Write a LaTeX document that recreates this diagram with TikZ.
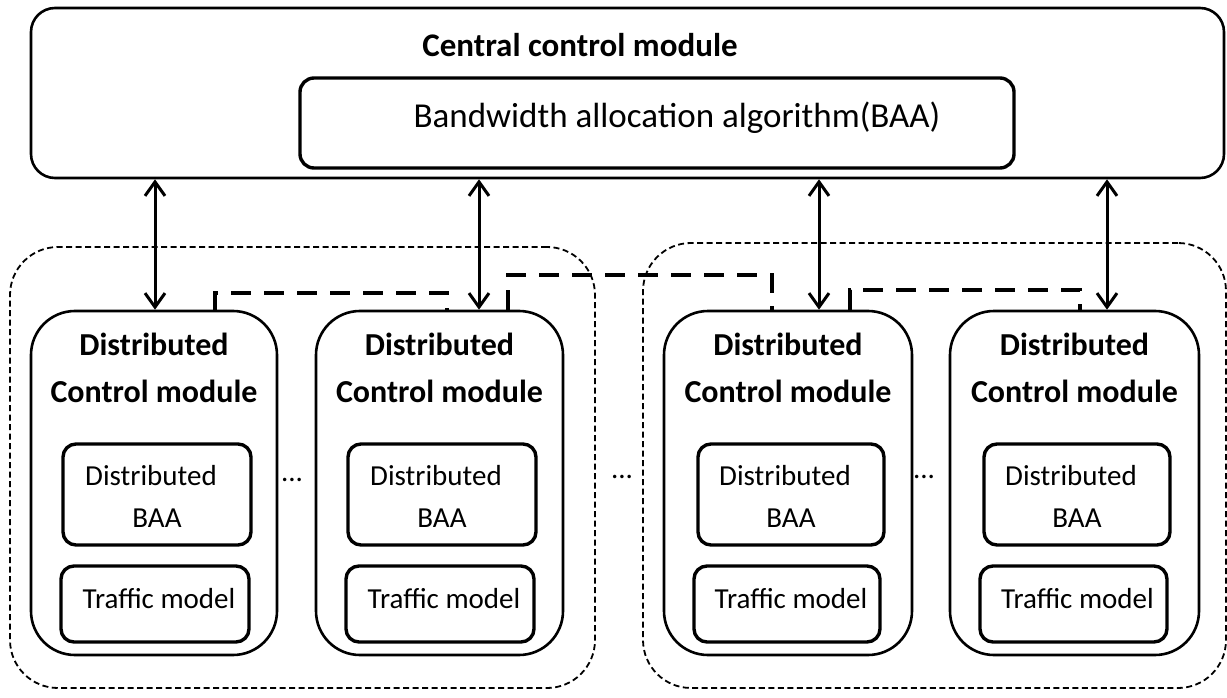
\documentclass[tikz,border=0pt]{standalone}
\usepackage{fontspec}
\setmainfont{Carlito}
\usetikzlibrary{arrows.meta}
\begin{document}
\begin{tikzpicture}[x=1pt,y=-1pt,
  frame/.style={draw, line width=2.6pt, rounded corners=24pt, inner sep=0pt},
  algbox/.style={draw, line width=3.4pt, rounded corners=14pt, inner sep=0pt},
  group/.style={draw, line width=1.8pt, dash pattern=on 6pt off 3.5pt, rounded corners=48pt, inner sep=0pt},
  dcm/.style={draw, line width=2.6pt, rounded corners=44pt, inner sep=0pt},
  sub/.style={draw, line width=3.4pt, rounded corners=13pt, inner sep=0pt},
  title/.style={inner sep=0pt, anchor=base, font=\fontsize{33}{40}\selectfont\bfseries},
  bigtext/.style={inner sep=0pt, anchor=base, font=\fontsize{35}{42}\selectfont},
  head/.style={inner sep=0pt, anchor=base, font=\fontsize{32}{38}\selectfont\bfseries},
  small/.style={inner sep=0pt, anchor=base, font=\fontsize{29}{35}\selectfont},
  link/.style={line width=3pt, {Straight Barb[length=14pt,width=20pt]}-{Straight Barb[length=14pt,width=20pt]}},
  peer/.style={line width=3.6pt, dash pattern=on 20pt off 13pt}
]
\useasboundingbox (0,0) rectangle (1227,698);

% central module and its allocation algorithm
\node[frame, minimum width=1193, minimum height=170] (central) at (627.5,93) {};
\node[algbox, minimum width=714, minimum height=90] (baa) at (657,123) {};
\node[title] (ctitle) at (580,57) {Central control module};
\node[bigtext] (baatext) at (677,128) {Bandwidth allocation algorithm(BAA)};

% two dashed groups of distributed modules
\node[group, minimum width=585, minimum height=441] (gleft) at (302.5,467.5) {};
\node[group, minimum width=583, minimum height=445] (gright) at (934.5,465.5) {};

% distributed control modules
\foreach \n/\dl/\dr/\il/\ir/\tl/\tr in {1/31/277/63/251/61/249, 2/316/563/348/536/346/534, 3/664/912/698/884/694/880, 4/950/1199/984/1170/980/1167}{
  \node[dcm, minimum width={\dr-\dl}, minimum height=344] (dcm\n) at ({(\dl+\dr)/2},483) {};
  \node[sub, minimum width={\ir-\il}, minimum height=101] (dbaa\n) at ({(\il+\ir)/2},494.5) {};
  \node[sub, minimum width={\tr-\tl}, minimum height=76] (traf\n) at ({(\tl+\tr)/2},604) {};
  \node[head] (hd\n) at ({(\dl+\dr)/2},355) {Distributed};
  \node[head] (hc\n) at ({(\dl+\dr)/2},402) {Control module};
  \node[small] (sd\n) at ({(\il+\ir)/2-6},485) {Distributed};
  \node[small] (sb\n) at ({(\il+\ir)/2},527) {BAA};
  \node[small] (st\n) at ({(\tl+\tr)/2+4},608) {Traffic model};
}

% ellipses between modules
\node[small] (dots1) at (292,481) {...};
\node[small] (dots2) at (622,478) {...};
\node[small] (dots3) at (924,478) {...};

% links to the central module
\coordinate (a1) at (155,0);
\coordinate (a2) at (479,0);
\coordinate (a3) at (819,0);
\coordinate (a4) at (1107,0);
\draw[link] (a1 |- central.south) -- (a1 |- dcm1.north);
\draw[link] (a2 |- central.south) -- (a2 |- dcm2.north);
\draw[link] (a3 |- central.south) -- (a3 |- dcm3.north);
\draw[link] (a4 |- central.south) -- (a4 |- dcm4.north);

% peer links between distributed modules
\coordinate (p1) at (215,293);
\coordinate (p2) at (447,293);
\coordinate (p3) at (508,275);
\coordinate (p4) at (772,275);
\coordinate (p5) at (850,290);
\coordinate (p6) at (1080,290);
\draw[peer] (p1 |- dcm1.north) -- (p1) -- (p2) -- (p2 |- dcm2.north);
\draw[peer] (p3 |- dcm2.north) -- (p3) -- (p4) -- (p4 |- dcm3.north);
\draw[peer] (p5 |- dcm3.north) -- (p5) -- (p6) -- (p6 |- dcm4.north);
\end{tikzpicture}
\end{document}
